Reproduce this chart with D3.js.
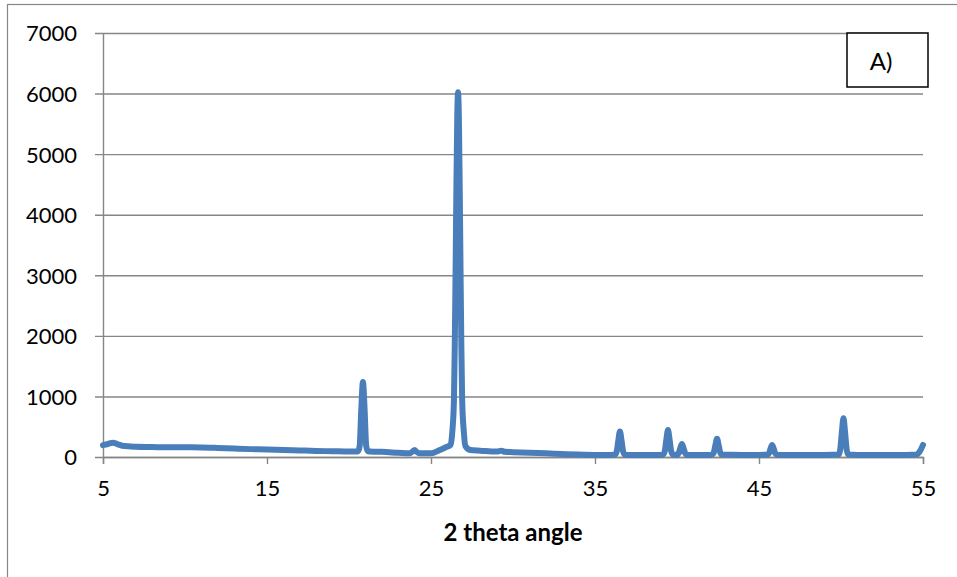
<!DOCTYPE html>
<html>
<head>
<meta charset="utf-8">
<script src="https://cdn.jsdelivr.net/npm/d3@7"></script>
<style>
  html, body { margin: 0; padding: 0; background: #fff; }
  svg { display: block; }
  text { font-family: Lato, "Open Sans", sans-serif; fill: #000; }
</style>
</head>
<body>
<svg id="chart" width="957" height="577"></svg>
<script>
// XRD pattern: diffraction angle (2θ, degrees) and intensity (counts)
const angles = [
  5.0, 5.3, 5.6, 5.9, 6.3, 7.0, 8.0, 9.0, 10.0, 11.0, 12.0, 13.0, 14.0, 15.0,
  16.0, 17.0, 18.0, 19.0, 20.0, 20.45, 20.55, 20.65, 20.75, 20.85, 20.95, 21.05,
  21.15, 21.3, 22.0, 23.0, 23.7, 23.9, 24.0, 24.1, 24.3, 25.0, 25.5, 25.9, 26.2,
  26.3, 26.4, 26.45, 26.5, 26.55, 26.6, 26.65, 26.7, 26.75, 26.8, 26.85, 26.9,
  27.0, 27.1, 27.4, 28.0, 29.0, 29.3, 29.5, 30.0, 31.0, 32.0, 33.0, 34.0, 35.0,
  36.0, 36.22, 36.32, 36.42, 36.52, 36.62, 36.72, 36.82, 37.0, 38.0, 39.0,
  39.15, 39.25, 39.35, 39.45, 39.55, 39.65, 39.75, 40.0, 40.1, 40.2, 40.3,
  40.4, 40.5, 40.6, 41.0, 42.0, 42.14, 42.24, 42.34, 42.44, 42.54, 42.64,
  42.74, 44.0, 45.0, 45.5, 45.6, 45.7, 45.8, 45.9, 46.0, 46.1, 47.0, 48.0,
  49.0, 49.85, 49.95, 50.05, 50.15, 50.25, 50.35, 50.45, 51.0, 52.0, 53.0,
  54.0, 54.6, 54.8, 55.0
];
const intensity = [
  195, 215, 236, 210, 180, 170, 165, 160, 160, 158, 150, 140, 130, 125,
  115, 108, 100, 95, 90, 92, 95, 180, 790, 1240, 790, 180,
  95, 92, 85, 70, 60, 95, 115, 90, 60, 60, 110, 160, 200,
  420, 950, 1850, 3100, 4470, 5590, 6020, 5590, 4470, 3100, 1850, 950,
  420, 180, 115, 105, 90, 105, 85, 80, 70, 60, 50, 40, 35,
  35, 40, 87, 270, 420, 270, 87, 40, 35, 35, 35,
  40, 90, 285, 445, 285, 90, 40, 35, 60, 145, 215,
  145, 60, 35, 35, 35, 40, 70, 195, 300, 195, 70,
  40, 35, 35, 38, 57, 135, 200, 135, 57, 38, 35, 35,
  35, 40, 117, 404, 640, 404, 117, 40, 35, 35, 35,
  35, 40, 90, 200
];

const xTicks = [5, 15, 25, 35, 45, 55];
const yTicks = [0, 1000, 2000, 3000, 4000, 5000, 6000, 7000];
const xTitle = "2 theta angle";
const panelLabel = "A)";

const svg = d3.select("#chart");
const plot = { left: 103, right: 923, top: 33, bottom: 457 };

const x = d3.scaleLinear().domain([5, 55]).range([plot.left, plot.right]);
const y = d3.scaleLinear().domain([0, 7000]).range([plot.bottom, plot.top]);

const gridColor = "#868686";

// chart area frame
svg.append("rect")
  .attr("x", 7.5).attr("y", 4.5)
  .attr("width", 1000).attr("height", 1000)
  .attr("fill", "none").attr("stroke", gridColor).attr("stroke-width", 1.2);

// y axis with horizontal gridlines
const yAxis = svg.append("g")
  .attr("transform", `translate(${plot.left},0)`)
  .call(d3.axisLeft(y).tickValues(yTicks).tickSizeOuter(0).tickPadding(20)
    .tickFormat(d3.format("d")));
yAxis.select(".domain").attr("stroke", gridColor).attr("stroke-width", 1.4);
yAxis.selectAll(".tick line")
  .attr("x1", -8).attr("x2", plot.right - plot.left)
  .attr("stroke", gridColor).attr("stroke-width", 1.4);
yAxis.selectAll(".tick text")
  .style("font-size", "22px").attr("dy", "0.36em");

// x axis
const xAxis = svg.append("g")
  .attr("transform", `translate(0,${plot.bottom})`)
  .call(d3.axisBottom(x).tickValues(xTicks).tickSizeOuter(0).tickSize(7).tickPadding(16));
xAxis.select(".domain").attr("stroke", gridColor).attr("stroke-width", 1.4);
xAxis.selectAll(".tick line").attr("stroke", gridColor).attr("stroke-width", 1.4);
xAxis.selectAll(".tick text").style("font-size", "22px");

// axis title
svg.append("text")
  .attr("x", 513).attr("y", 541)
  .attr("text-anchor", "middle")
  .style("font-size", "24px").style("font-weight", "bold")
  .text(xTitle);

// diffraction pattern
const pts = angles.map((a, i) => [a, intensity[i]]);
svg.append("path")
  .datum(pts)
  .attr("fill", "none")
  .attr("stroke", "#4a7ebb")
  .attr("stroke-width", 6)
  .attr("stroke-linejoin", "round")
  .attr("stroke-linecap", "round")
  .attr("d", d3.line().x(d => x(d[0])).y(d => y(d[1])).curve(d3.curveMonotoneX));

// panel label box
svg.append("rect")
  .attr("x", 847).attr("y", 33)
  .attr("width", 81).attr("height", 54)
  .attr("fill", "#fff").attr("stroke", "#000").attr("stroke-width", 1.5);
svg.append("text")
  .attr("x", 881).attr("y", 61)
  .attr("text-anchor", "middle").attr("dy", "0.36em")
  .style("font-size", "24px")
  .text(panelLabel);
</script>
</body>
</html>
